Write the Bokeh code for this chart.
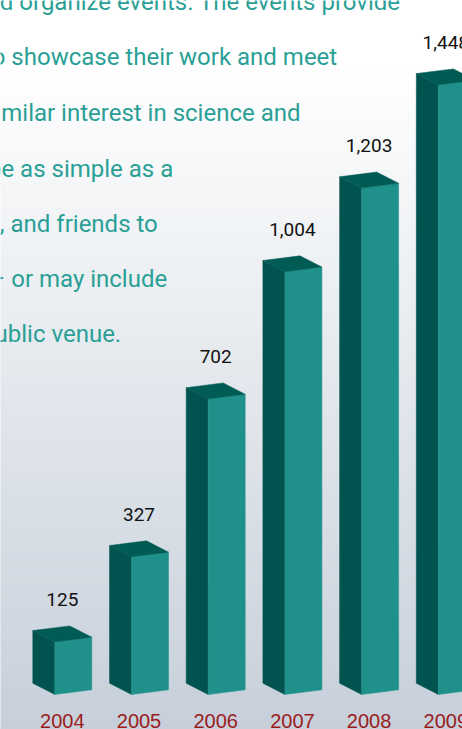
import numpy as np
from bokeh.plotting import figure
from bokeh.models import Range1d
from bokeh.embed import file_html
from bokeh.resources import INLINE
from bokeh.core.properties import value

# ---- data ----
years = ["2004", "2005", "2006", "2007", "2008", "2009"]
counts = [125, 327, 702, 1004, 1203, 1448]
count_labels = ["125", "327", "702", "1,004", "1,203", "1,448"]

text_lines = [
    "d organize events. The events provide",
    "o showcase their work and meet",
    "milar interest in science and",
    "be as simple as a",
    ", and friends to",
    "\u2013 or may include",
    "ublic venue.",
]

# ---- layout constants (reference pixel geometry) ----
W, H = 462, 729
X0_PX = 54.3      # near edge of first bar (px)
STEP = 76.7       # px per category
BASE_PX = 694.0   # baseline (px)
K = 0.421         # px per count unit
SIDE_W, SIDE_H = 22.0, 11.3
FRONT_W, FRONT_H = 37.0, 4.7
BASELINE_FIX = 0.3   # em: svg text sits lower than anchor

def xd(px):
    return (px - X0_PX) / STEP

def yd(py):
    return (BASE_PX - py) / K

p = figure(width=W, height=H, output_backend="svg", toolbar_location=None,
           x_range=Range1d(xd(0), xd(W)), y_range=Range1d(yd(H), yd(0)),
           min_border=0)
p.axis.visible = False
p.grid.visible = False
p.outline_line_color = None
p.background_fill_color = "white"
p.border_fill_color = "white"

# ---- background gradient ----
top_c = np.array([255, 255, 255], float)
bot_c = np.array([198, 207, 218], float)
band_edges = np.arange(0, H + 4, 4.0)
b_top, b_bot, b_col = [], [], []
for a, b in zip(band_edges[:-1], band_edges[1:]):
    t = np.clip((a - 60) / (729 - 60), 0, 1)
    c = top_c + (bot_c - top_c) * t
    b_top.append(yd(a)); b_bot.append(yd(b + 0.5))
    b_col.append("#%02x%02x%02x" % tuple(int(round(v)) for v in c))
p.quad(left=xd(-5), right=xd(470), top=b_top, bottom=b_bot,
       fill_color=b_col, line_color=None)

# ---- text block ----
FS_TXT = 24
line_base_px = [9, 64, 120, 176, 231, 286, 341]
line_right_px = [400, 336.7, 300, 172.7, 157.3, 166.7, 120.7]
p.text(x=[xd(v) for v in line_right_px],
       y=[yd(v - BASELINE_FIX * FS_TXT) for v in line_base_px],
       text=text_lines, text_align="right", text_baseline="alphabetic",
       text_font=value("Roboto"), text_font_size=f"{FS_TXT}px", text_color="#2a9f96")

# ---- 3D bars ----
sdx, sdy = -SIDE_W / STEP, SIDE_H / K
fdx, fdy = FRONT_W / STEP, FRONT_H / K
idx = np.arange(len(counts))
side_xs, side_ys, front_xs, front_ys, top_xs, top_ys = [], [], [], [], [], []
for i, v in zip(idx, counts):
    x = float(i)
    side_xs.append([x, x, x + sdx, x + sdx]); side_ys.append([0, v, v + sdy, sdy])
    front_xs.append([x, x, x + fdx, x + fdx]); front_ys.append([0, v, v + fdy, fdy])
    top_xs.append([x, x + sdx, x + sdx + fdx, x + fdx])
    top_ys.append([v, v + sdy, v + sdy + fdy, v + fdy])

p.patches(side_xs, side_ys, fill_color="#00534e", line_color="#00534e", line_width=0.5)
p.patches(front_xs, front_ys, fill_color="#1f918a", line_color="#1f918a", line_width=0.5)
p.patches(top_xs, top_ys, fill_color="#005b55", line_color="#005b55", line_width=0.5)

# ---- labels ----
center_off = (sdx + fdx) / 2
FS_VAL = 19
p.text(x=idx + center_off, y=[v + (37 + BASELINE_FIX * FS_VAL) / K for v in counts],
       text=count_labels, text_align="center", text_baseline="alphabetic",
       text_font=value("Roboto"), text_font_size=f"{FS_VAL}px", text_color="#111111")

FS_YR = 20
p.text(x=idx + center_off, y=[yd(726.5 - BASELINE_FIX * FS_YR)] * len(years), text=years,
       text_align="center", text_baseline="alphabetic",
       text_font=value("Liberation Sans"), text_font_size=f"{FS_YR}px", text_color="#9b1c1c")

open("out.html", "w").write(file_html(p, INLINE))
